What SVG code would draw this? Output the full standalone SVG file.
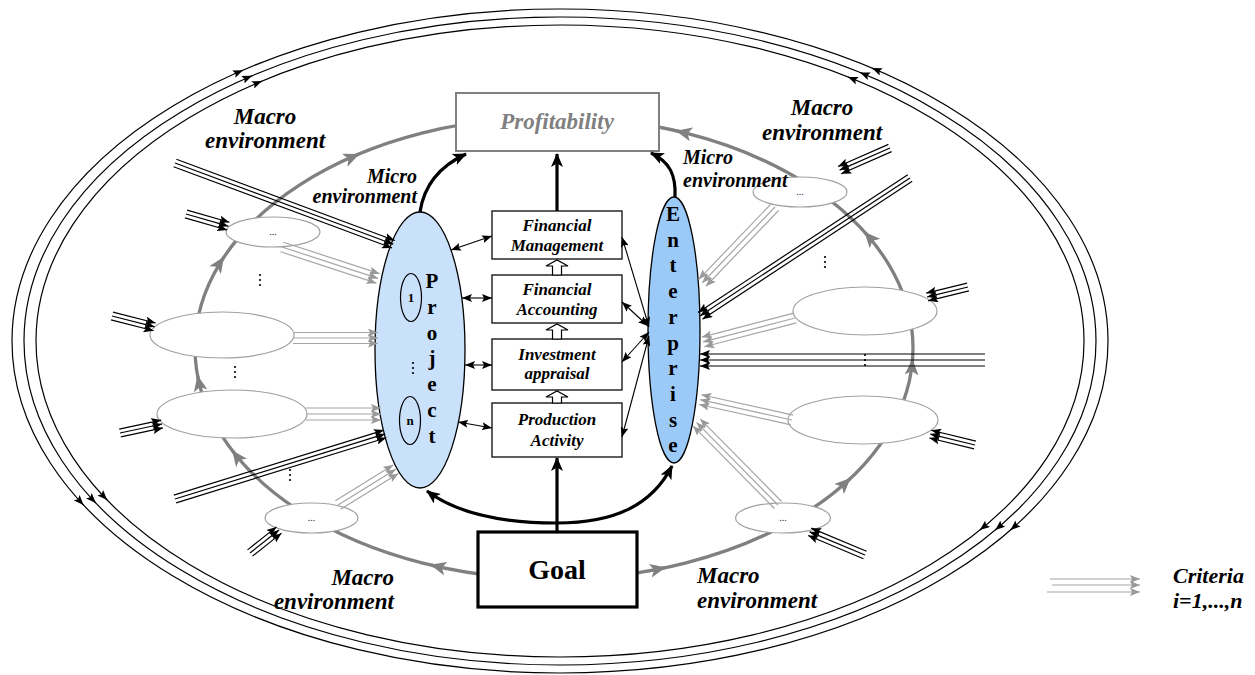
<svg xmlns="http://www.w3.org/2000/svg" width="1255" height="675" viewBox="0 0 1255 675">
<defs>
<style>
.bi{font-family:"Liberation Serif","Times New Roman",serif;font-weight:bold;font-style:italic;fill:#000;}
.macro{font-size:23px;}
.micro{font-size:20px;}
.boxt{font-size:17px;text-anchor:middle;}
.vert{font-family:"Liberation Serif","Times New Roman",serif;font-weight:bold;font-size:21px;text-anchor:middle;fill:#000;}
.small{font-family:"Liberation Serif","Times New Roman",serif;font-weight:bold;font-size:13px;text-anchor:middle;fill:#000;}
.dots{font-family:"Liberation Serif","Times New Roman",serif;font-size:10px;text-anchor:middle;fill:#222;}
.box{fill:#fff;stroke:#1a1a1a;stroke-width:1.4;}
.sm{fill:#fff;stroke:#a0a0a0;stroke-width:1.2;}
.outer{fill:none;stroke:#000;stroke-width:1.2;}
.loop{fill:none;stroke:#808080;stroke-width:3.3;}
.thick{fill:none;stroke:#000;stroke-width:3.2;marker-end:url(#ahk);}
.dbl{fill:none;stroke:#000;stroke-width:1.1;marker-start:url(#ah);marker-end:url(#ah);}
.gb line{stroke:#a6a6a6;stroke-width:1.2;marker-end:url(#ahg);}
.bb line{stroke:#000;stroke-width:1.2;marker-end:url(#ah);}
.tip{fill:none;stroke:#000;stroke-width:1.2;marker-end:url(#ah);}
.ltip{fill:none;stroke:#808080;stroke-width:3.3;marker-end:url(#ahl);}
.hollow{fill:#fff;stroke:#000;stroke-width:1.2;}
.vd circle{fill:#000;}
</style>
<marker id="ah" viewBox="0 0 10 8" refX="10" refY="4" markerWidth="10" markerHeight="8" markerUnits="userSpaceOnUse" orient="auto-start-reverse"><path d="M0,0 L10,4 L0,8 L2,4 z" fill="#000"/></marker>
<marker id="ahg" viewBox="0 0 10 8" refX="10" refY="4" markerWidth="10" markerHeight="8" markerUnits="userSpaceOnUse" orient="auto-start-reverse"><path d="M0,0 L10,4 L0,8 L2,4 z" fill="#999"/></marker>
<marker id="ahk" viewBox="0 0 14 12" refX="13" refY="6" markerWidth="14" markerHeight="12" markerUnits="userSpaceOnUse" orient="auto-start-reverse"><path d="M0,0 L14,6 L0,12 L3.5,6 z" fill="#000"/></marker>
<marker id="ahl" viewBox="0 0 16 14" refX="15" refY="7" markerWidth="16" markerHeight="14" markerUnits="userSpaceOnUse" orient="auto"><path d="M0,0 L16,7 L0,14 L4,7 z" fill="#808080"/></marker>
<g id="vdots" class="vd"><circle cx="0" cy="-5" r="1.1"/><circle cx="0" cy="0" r="1.1"/><circle cx="0" cy="5" r="1.1"/></g>
</defs>

<rect width="1255" height="675" fill="#fff"/>

<g id="connectors-back">
  <ellipse class="outer" cx="560" cy="341" rx="548" ry="332"/>
  <ellipse class="outer" cx="560" cy="341" rx="536" ry="324"/>
  <ellipse class="outer" cx="560" cy="341" rx="524" ry="316"/>
  <path class="tip" d="M239.3,71.8 L243,70.2"/>
  <path class="tip" d="M248.3,77.4 L252,75.8"/>
  <path class="tip" d="M258.3,82.6 L262,81.1"/>
  <path class="tip" d="M875.7,69.6 L872,68.1"/>
  <path class="tip" d="M863.7,74 L860,72.5"/>
  <path class="tip" d="M851.7,78.5 L848,77"/>
  <path class="tip" d="M80.8,502.1 L83.5,505"/>
  <path class="tip" d="M93,500.1 L95.8,503"/>
  <path class="tip" d="M104.4,497.1 L107.2,500"/>
  <path class="tip" d="M1013.5,527.4 L1010.5,530"/>
  <path class="tip" d="M998.4,527.4 L995.3,530"/>
  <path class="tip" d="M983,527.5 L979.9,530"/>
  <ellipse class="loop" cx="554" cy="348" rx="359" ry="231"/>
  <path class="ltip" d="M434.1,565.8 L431.2,565.1"/>
  <path class="ltip" d="M234.5,453.4 L232.7,451"/>
  <path class="ltip" d="M198.3,379.1 L197.7,376.2"/>
  <path class="ltip" d="M221.8,260.2 L223.5,257.7"/>
  <path class="ltip" d="M355.7,155.5 L358.5,154.3"/>
  <path class="ltip" d="M662,568.3 L664.9,567.7"/>
  <path class="ltip" d="M847.7,480.9 L849.9,478.8"/>
  <path class="ltip" d="M912.3,363.1 L912.5,360.1"/>
  <path class="ltip" d="M866.9,234.7 L864.9,232.5"/>
  <path class="ltip" d="M679.7,131.6 L676.8,130.9"/>
</g>

<g id="nodes">
  <g id="profitability"><rect x="456" y="93" width="203" height="58" fill="#fff" stroke="#808080" stroke-width="2"/>
    <text class="bi" x="557" y="129" font-size="23" text-anchor="middle" style="fill:#808080">Profitability</text></g>
  <g id="goal"><rect x="478" y="532" width="159" height="75" fill="#fff" stroke="#000" stroke-width="3.2"/>
    <text x="557" y="579" font-family="'Liberation Serif', 'Times New Roman', serif" font-weight="bold" font-size="28" text-anchor="middle">Goal</text></g>
  <g id="project"><ellipse cx="420" cy="350" rx="45" ry="138" fill="#c9e1fb" stroke="#000" stroke-width="1.3"/>
    <ellipse cx="411" cy="297.5" rx="10.5" ry="24" fill="none" stroke="#000" stroke-width="1.2"/>
    <text class="small" x="411" y="302">1</text>
    <ellipse cx="410" cy="420.5" rx="10.5" ry="24" fill="none" stroke="#000" stroke-width="1.2"/>
    <text class="small" x="410" y="425">n</text>
    <use href="#vdots" x="413" y="368"/>
    <text class="vert"><tspan x="432" y="288">P</tspan><tspan x="432" y="313.8">r</tspan><tspan x="432" y="339.6">o</tspan><tspan x="432" y="365.4">j</tspan><tspan x="432" y="391.2">e</tspan><tspan x="432" y="417">c</tspan><tspan x="432" y="442.8">t</tspan></text></g>
  <g id="enterprise"><ellipse cx="674" cy="330" rx="26" ry="133" fill="#9ccaf8" stroke="#000" stroke-width="1.3"/>
    <text class="vert"><tspan x="673" y="221">E</tspan><tspan x="673" y="246.7">n</tspan><tspan x="673" y="272.4">t</tspan><tspan x="673" y="298.1">e</tspan><tspan x="673" y="323.8">r</tspan><tspan x="673" y="349.5">p</tspan><tspan x="673" y="375.2">r</tspan><tspan x="673" y="400.9">i</tspan><tspan x="673" y="426.6">s</tspan><tspan x="673" y="452.3">e</tspan></text></g>
  <g id="financial-management"><rect class="box" x="492" y="211" width="130" height="48"/>
    <text class="bi boxt"><tspan x="557" y="231">Financial</tspan><tspan x="557" y="251">Management</tspan></text></g>
  <g id="financial-accounting"><rect class="box" x="492" y="275" width="130" height="48"/>
    <text class="bi boxt"><tspan x="557" y="295">Financial</tspan><tspan x="557" y="315">Accounting</tspan></text></g>
  <g id="investment-appraisal"><rect class="box" x="492" y="339" width="130" height="51"/>
    <text class="bi boxt"><tspan x="557" y="360">Investment</tspan><tspan x="557" y="379">appraisal</tspan></text></g>
  <g id="production-activity"><rect class="box" x="492" y="403" width="130" height="54"/>
    <text class="bi boxt"><tspan x="557" y="425">Production</tspan><tspan x="557" y="446">Activity</tspan></text></g>
  <g id="env-left-1"><ellipse class="sm" cx="273" cy="232" rx="47" ry="15"/><text class="dots" x="273" y="235">...</text></g>
  <g id="env-left-2"><ellipse class="sm" cx="222" cy="335" rx="72" ry="23"/></g>
  <g id="env-left-3"><ellipse class="sm" cx="232" cy="414" rx="75" ry="24"/></g>
  <g id="env-left-4"><ellipse class="sm" cx="311.5" cy="518" rx="46.5" ry="15"/><text class="dots" x="311.5" y="521">...</text></g>
  <g id="env-right-1"><ellipse class="sm" cx="800" cy="192" rx="47" ry="15"/><text class="dots" x="800" y="195">...</text></g>
  <g id="env-right-2"><ellipse class="sm" cx="865" cy="311" rx="72" ry="24"/></g>
  <g id="env-right-3"><ellipse class="sm" cx="863" cy="420" rx="75" ry="24"/></g>
  <g id="env-right-4"><ellipse class="sm" cx="783" cy="518" rx="47.5" ry="15"/><text class="dots" x="783" y="521">...</text></g>
  <use href="#vdots" x="260" y="280"/>
  <use href="#vdots" x="235" y="372"/>
  <use href="#vdots" x="290" y="475"/>
  <use href="#vdots" x="825" y="262"/>
</g>

<g id="connectors">
  <g class="gb" transform="translate(282,247) rotate(18.1)"><line x1="0" y1="-5" x2="101" y2="-5"/><line x1="0" y1="0" x2="101" y2="0"/><line x1="0" y1="5" x2="101" y2="5"/></g>
  <g class="gb" transform="translate(293,338)"><line x1="0" y1="-5.5" x2="85" y2="-5.5"/><line x1="0" y1="0" x2="85" y2="0"/><line x1="0" y1="5.5" x2="85" y2="5.5"/></g>
  <g class="gb" transform="translate(306,414)"><line x1="0" y1="-6" x2="75" y2="-6"/><line x1="0" y1="0" x2="75" y2="0"/><line x1="0" y1="6" x2="75" y2="6"/></g>
  <g class="gb" transform="translate(338,505) rotate(-31.8)"><line x1="0" y1="-5" x2="68" y2="-5"/><line x1="0" y1="0" x2="68" y2="0"/><line x1="0" y1="5" x2="68" y2="5"/></g>
  <g class="gb" transform="translate(775,207) rotate(133.8)"><line x1="0" y1="-5" x2="105" y2="-5"/><line x1="0" y1="0" x2="105" y2="0"/><line x1="0" y1="5" x2="105" y2="5"/></g>
  <g class="gb" transform="translate(795,318) rotate(165.4)"><line x1="0" y1="-5" x2="95" y2="-5"/><line x1="0" y1="0" x2="95" y2="0"/><line x1="0" y1="5" x2="95" y2="5"/></g>
  <g class="gb" transform="translate(792,420) rotate(-167.5)"><line x1="0" y1="-5" x2="94" y2="-5"/><line x1="0" y1="0" x2="94" y2="0"/><line x1="0" y1="5" x2="94" y2="5"/></g>
  <g class="gb" transform="translate(778,505) rotate(-134.6)"><line x1="0" y1="-5" x2="116" y2="-5"/><line x1="0" y1="0" x2="116" y2="0"/><line x1="0" y1="5" x2="116" y2="5"/></g>
  <g class="bb" transform="translate(175,163) rotate(20.4)"><line x1="0" y1="-4" x2="233" y2="-4"/><line x1="0" y1="0" x2="233" y2="0"/><line x1="0" y1="4" x2="233" y2="4"/></g>
  <g class="bb" transform="translate(186,214) rotate(16)"><line x1="0" y1="-4" x2="44" y2="-4"/><line x1="0" y1="0" x2="44" y2="0"/><line x1="0" y1="4" x2="44" y2="4"/></g>
  <g class="bb" transform="translate(112,316) rotate(14.3)"><line x1="0" y1="-4" x2="44" y2="-4"/><line x1="0" y1="0" x2="44" y2="0"/><line x1="0" y1="4" x2="44" y2="4"/></g>
  <g class="bb" transform="translate(120,433) rotate(-12.1)"><line x1="0" y1="-4" x2="43" y2="-4"/><line x1="0" y1="0" x2="43" y2="0"/><line x1="0" y1="4" x2="43" y2="4"/></g>
  <g class="bb" transform="translate(175,499) rotate(-17.2)"><line x1="0" y1="-4" x2="220" y2="-4"/><line x1="0" y1="0" x2="220" y2="0"/><line x1="0" y1="4" x2="220" y2="4"/></g>
  <g class="bb" transform="translate(250,553) rotate(-38.4)"><line x1="0" y1="-4" x2="37" y2="-4"/><line x1="0" y1="0" x2="37" y2="0"/><line x1="0" y1="4" x2="37" y2="4"/></g>
  <g class="bb" transform="translate(890,148) rotate(156.3)"><line x1="0" y1="-4" x2="55" y2="-4"/><line x1="0" y1="0" x2="55" y2="0"/><line x1="0" y1="4" x2="55" y2="4"/></g>
  <g class="bb" transform="translate(910,178) rotate(146.7)"><line x1="0" y1="-4" x2="251" y2="-4"/><line x1="0" y1="0" x2="251" y2="0"/><line x1="0" y1="4" x2="251" y2="4"/></g>
  <g class="bb" transform="translate(968,287) rotate(166.3)"><line x1="0" y1="-4" x2="42" y2="-4"/><line x1="0" y1="0" x2="42" y2="0"/><line x1="0" y1="4" x2="42" y2="4"/></g>
  <g class="bb" transform="translate(985,360) rotate(180)"><line x1="0" y1="-6" x2="285" y2="-6"/><line x1="0" y1="0" x2="285" y2="0"/><line x1="0" y1="6" x2="285" y2="6"/></g>
  <g class="bb" transform="translate(975,445) rotate(-166.3)"><line x1="0" y1="-4" x2="46" y2="-4"/><line x1="0" y1="0" x2="46" y2="0"/><line x1="0" y1="4" x2="46" y2="4"/></g>
  <g class="bb" transform="translate(865,555) rotate(-157.3)"><line x1="0" y1="-4" x2="60" y2="-4"/><line x1="0" y1="0" x2="60" y2="0"/><line x1="0" y1="4" x2="60" y2="4"/></g>
  <path class="dbl" d="M451,250 L492,236"/>
  <path class="dbl" d="M462,298 L492,298"/>
  <path class="dbl" d="M465,365 L492,365"/>
  <path class="dbl" d="M458,422 L492,428"/>
  <path class="dbl" d="M622,237 L649,327"/>
  <path class="dbl" d="M622,302 L648,326"/>
  <path class="dbl" d="M622,362 L649,332"/>
  <path class="dbl" d="M622,437 L649,336"/>
  <polygon class="hollow" points="552.5,275 552.5,266 546,266 557,260 568,266 561.5,266 561.5,275"/>
  <polygon class="hollow" points="552.5,339 552.5,330 546,330 557,324 568,330 561.5,330 561.5,339"/>
  <polygon class="hollow" points="552.5,403 552.5,397 546,397 557,391 568,397 561.5,397 561.5,403"/>
  <path class="thick" d="M420,212 C424,185 440,166 466,154"/>
  <path class="thick" d="M675,197 C676,175 670,162 651,153"/>
  <path class="thick" d="M557,211 L557,154"/>
  <path class="thick" d="M557,532 L557,458"/>
  <path class="thick" d="M557,523 C500,523 455,512 427,491"/>
  <path class="thick" d="M557,523 C615,523 652,505 672,466"/>
  <use href="#vdots" x="865" y="360"/>
  <g class="gb"><line x1="1050" y1="579" x2="1140" y2="579"/><line x1="1052" y1="585" x2="1140" y2="585"/><line x1="1047" y1="592" x2="1140" y2="592"/></g>
</g>

<g id="labels">
  <text class="bi macro" text-anchor="middle"><tspan x="265" y="124">Macro</tspan><tspan x="265" y="148">environment</tspan></text>
  <text class="bi macro" text-anchor="middle"><tspan x="822" y="115">Macro</tspan><tspan x="822" y="140">environment</tspan></text>
  <text class="bi macro" text-anchor="end"><tspan x="394" y="585">Macro</tspan><tspan x="394" y="609">environment</tspan></text>
  <text class="bi macro" text-anchor="start"><tspan x="697" y="583">Macro</tspan><tspan x="697" y="608">environment</tspan></text>
  <text class="bi micro" text-anchor="end"><tspan x="417" y="183">Micro</tspan><tspan x="417" y="203">environment</tspan></text>
  <text class="bi micro" text-anchor="start"><tspan x="683" y="164">Micro</tspan><tspan x="683" y="187">environment</tspan></text>
  <text class="bi" font-size="22"><tspan x="1173" y="583">Criteria</tspan><tspan x="1173" y="608">i=1,...,n</tspan></text>
</g>
</svg>
